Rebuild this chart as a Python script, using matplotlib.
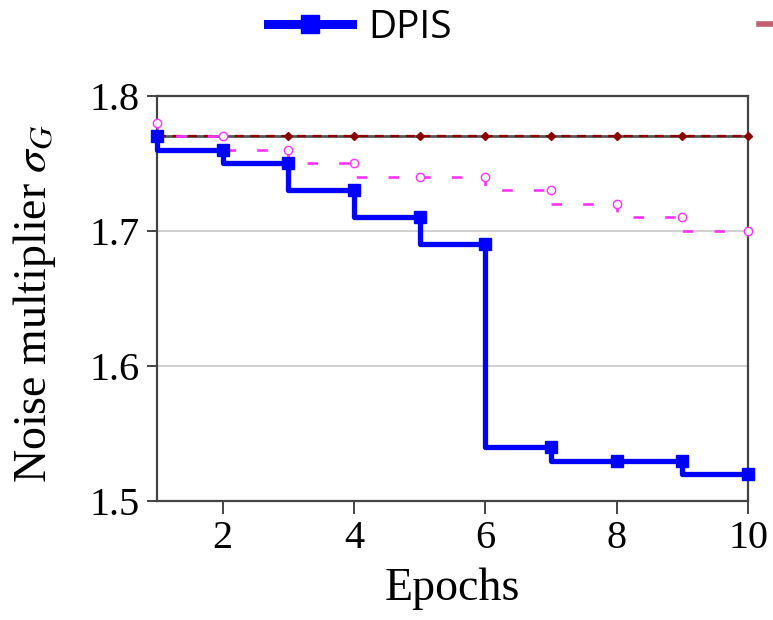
#!/usr/bin/env python3
import matplotlib
matplotlib.use("Agg")
import matplotlib.pyplot as plt
from matplotlib.lines import Line2D

# -----------------------------
# Data
# -----------------------------
epochs = [1, 2, 3, 4, 5, 6, 7, 8, 9, 10]
dpis = [1.77, 1.76, 1.75, 1.73, 1.71, 1.69, 1.54, 1.53, 1.53, 1.52]
decay = [1.78, 1.77, 1.76, 1.75, 1.74, 1.74, 1.73, 1.72, 1.71, 1.70]
constant = [1.77, 1.77, 1.77, 1.77, 1.77, 1.77, 1.77, 1.77, 1.77, 1.77]

yticks = [1.5, 1.6, 1.7, 1.8]
xticks = [2, 4, 6, 8, 10]

plt.rcParams["font.family"] = ["Liberation Serif", "DejaVu Serif"]
plt.rcParams["mathtext.fontset"] = "stix"

fig = plt.figure(figsize=(7.73, 6.2), dpi=100)
ax = fig.add_axes([0.2031, 0.1919, 0.7646, 0.6533])

# constant baseline: grey solid with dark red dashes on top
ax.plot(epochs, constant, color="#555555", lw=2.0, zorder=3)
ax.plot(epochs, constant, color="#8b0000", lw=1.6, ls=(0, (4, 3)),
        marker="D", markersize=4, zorder=4, clip_on=False)

# decaying schedule (magenta dashed steps)
ax.plot(epochs, decay, color="#ff33ff", lw=1.9, ls=(0, (4, 8)),
        drawstyle="steps-pre", zorder=5)
ax.plot(epochs, decay, color="#ff33ff", lw=1.8, ls="none", marker="o",
        markersize=6, markerfacecolor="white", zorder=6, clip_on=False)

# DPIS
ax.plot(epochs, dpis, color="#0000ff", lw=3.8, drawstyle="steps-pre",
        marker="s", markersize=8.5, zorder=7, clip_on=False)

ax.set_xlim(1, 10)
ax.set_ylim(1.5, 1.8)
ax.set_xticks(xticks)
ax.set_yticks(yticks)
ax.set_yticklabels([f"{v:.1f}" for v in yticks])
ax.yaxis.grid(True, color="#c8c8c8", lw=1.2)
ax.set_axisbelow(True)

for s in ax.spines.values():
    s.set_color("#444444")
    s.set_linewidth(1.6)
ax.tick_params(direction="out", width=1.4, color="#444444",
               labelsize=29, pad=5)
ax.tick_params(axis="x", length=9)
ax.tick_params(axis="y", length=7.5)

ax.set_xlabel("Epochs", fontsize=33)
ax.set_ylabel(r"Noise multiplier $\sigma_G$", fontsize=33)
ax.xaxis.set_label_coords(0.5, -0.165)
ax.yaxis.set_label_coords(-0.168, 0.488)

# shared legend (clipped at the right edge like the original)
h1 = Line2D([], [], color="#0000ff", lw=6.5, marker="s", markersize=13)
h2 = Line2D([], [], color="#c06070", lw=4)
fig.legend([h1, h2], ["DPIS", ""], loc="center left",
           bbox_to_anchor=(268 / 773, 1 - 28 / 620), ncol=2, frameon=False,
           borderpad=0, borderaxespad=0, handlelength=2.15, handletextpad=0.42,
           columnspacing=7.9, prop={"family": "Open Sans", "size": 28})

fig.savefig("out.png", dpi=100)
